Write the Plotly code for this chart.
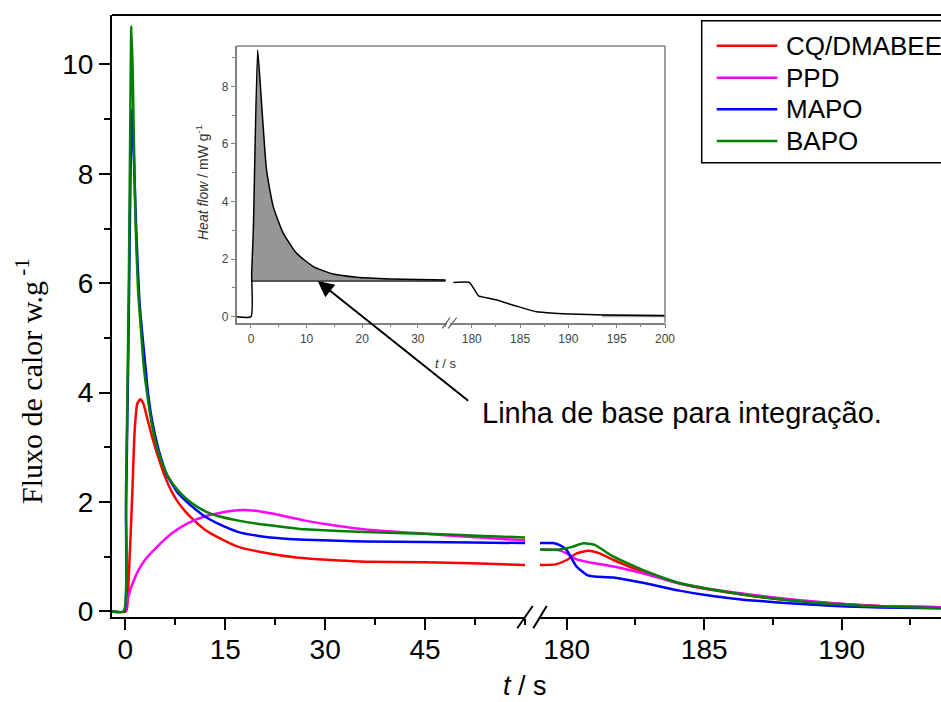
import plotly.graph_objects as go

# ---------------- data ----------------
series_names = ["CQ/DMABEE", "PPD", "MAPO", "BAPO"]
series_colors = ["#ff0000", "#ff00ff", "#0000ff", "#008000"]

# left segment (0 - 60 s)
red_t = [-2, 0.1, 0.5, 1.0, 1.4, 1.8, 2.25, 2.7, 3.25, 4.0, 5.0, 6.0, 7.0, 8.0, 9.0, 10, 12, 14, 17, 22, 27, 32, 36, 45, 52, 60]
red_v = [0, 0, 0.6, 2.0, 3.3, 3.8, 3.88, 3.8, 3.55, 3.2, 2.8, 2.45, 2.18, 1.98, 1.83, 1.7, 1.49, 1.35, 1.18, 1.05, 0.97, 0.93, 0.91, 0.9, 0.88, 0.85]

ppd_t = [0, 0.2, 0.5, 1, 2, 3, 4.5, 7, 9.5, 12, 14.5, 17, 19.5, 22, 27, 32, 36, 45, 52, 60]
ppd_v = [0, 0.15, 0.3, 0.48, 0.76, 0.95, 1.15, 1.43, 1.62, 1.74, 1.81, 1.85, 1.84, 1.79, 1.66, 1.56, 1.5, 1.42, 1.36, 1.3]

mapo_t = [-2, -0.2, 0.1, 0.5, 0.8, 1.0, 1.2, 1.6, 2.1, 2.6, 3.0, 3.4, 4.0, 4.9, 5.5, 6.25, 8, 9.25, 10, 12, 14, 17, 20, 24, 27, 32, 36, 45, 52, 60]
mapo_v = [0, 0, 1.8, 5.2, 8.2, 9.18, 8.6, 7.1, 5.7, 5.0, 4.5, 4.0, 3.5, 3.0, 2.75, 2.49, 2.15, 2.0, 1.92, 1.73, 1.6, 1.45, 1.38, 1.33, 1.31, 1.29, 1.28, 1.27, 1.26, 1.25]

bapo_t = [-2, -0.25, 0.1, 0.5, 0.75, 0.9, 1.1, 1.5, 1.9, 2.25, 2.75, 3.25, 4.0, 4.75, 5.5, 6.5, 8.0, 9.75, 12, 14, 17, 20, 24, 27, 32, 36, 45, 52, 60]
bapo_v = [0, 0, 2.2, 5.7, 9.0, 10.7, 9.9, 7.25, 5.9, 5.3, 4.5, 4.0, 3.4, 3.0, 2.72, 2.45, 2.2, 2.0, 1.83, 1.74, 1.66, 1.6, 1.54, 1.5, 1.47, 1.45, 1.42, 1.39, 1.35]

# right segment (179 - 194 s)
red_t2 = [179, 179.6, 180, 180.36, 180.8, 181.2, 181.7, 182.9, 184.1, 185.3, 186.5, 187.8, 189, 190.2, 191.4, 193.6]
red_v2 = [0.85, 0.86, 0.94, 1.06, 1.11, 1.06, 0.94, 0.70, 0.51, 0.39, 0.30, 0.22, 0.17, 0.13, 0.10, 0.075]

ppd_t2 = [179, 179.7, 180, 180.36, 180.9, 181.7, 182.9, 184.1, 185.3, 186.5, 187.8, 189, 190.2, 191.4, 193.6]
ppd_v2 = [1.13, 1.12, 1.06, 0.95, 0.89, 0.82, 0.68, 0.51, 0.40, 0.32, 0.24, 0.18, 0.13, 0.10, 0.075]

mapo_t2 = [179, 179.5, 179.8, 180, 180.36, 180.73, 181, 181.7, 182.9, 184.1, 185.3, 186.5, 187.8, 189, 190.2, 191.4, 193.6]
mapo_v2 = [1.25, 1.25, 1.2, 1.12, 0.82, 0.67, 0.64, 0.62, 0.51, 0.38, 0.28, 0.21, 0.16, 0.12, 0.09, 0.07, 0.06]

bapo_t2 = [179, 179.7, 180.2, 180.6, 181, 181.7, 182.9, 184.1, 185.3, 186.5, 187.8, 189, 190.2, 191.4, 193.6]
bapo_v2 = [1.13, 1.13, 1.18, 1.245, 1.22, 1.0, 0.73, 0.52, 0.40, 0.30, 0.22, 0.16, 0.12, 0.09, 0.06]

# inset (heat flow, mW g-1)
inset_t = [-2.6, 0.0, 0.12, 0.42, 1.2, 1.9, 2.8, 4.0, 5.8, 8.2, 11.2, 14.8, 19, 25, 35]
inset_v = [0, 0, 1.5, 3.0, 9.26, 7.41, 5.09, 3.82, 2.9, 2.2, 1.74, 1.48, 1.37, 1.31, 1.27]
inset_t2 = [178.1, 179.75, 180.2, 180.7, 181.5, 182.6, 183.8, 185, 186.7, 188.5, 190.2, 193.7, 200]
inset_v2 = [1.19, 1.19, 0.98, 0.72, 0.66, 0.58, 0.45, 0.33, 0.17, 0.12, 0.09, 0.06, 0.035]
inset_base_t = [0.12, 35]
inset_base_v = [1.24, 1.24]
inset_base2_t = [193.5, 200]
inset_base2_v = [0.03, 0.03]

main_left_ticks = [0, 15, 30, 45]
main_right_ticks = [180, 185, 190]
main_y_ticks = [0, 2, 4, 6, 8, 10]
inset_left_ticks = [0, 10, 20, 30]
inset_right_ticks = [180, 185, 190, 195, 200]
inset_y_ticks = [0, 2, 4, 6, 8]

# ---------------- layout helpers ----------------
W, H = 941, 702
ML, MR, MT, MB = 112, 0, 15, 85
PW, PH = W - ML - MR, H - MT - MB


def px(x):
    return (x - ML) / PW


def py(y):
    return (H - MB - y) / PH


FONT = "Liberation Sans, Arial, sans-serif"
fig = go.Figure()

left = [(red_t, red_v), (ppd_t, ppd_v), (mapo_t, mapo_v), (bapo_t, bapo_v)]
right = [(red_t2, red_v2), (ppd_t2, ppd_v2), (mapo_t2, mapo_v2), (bapo_t2, bapo_v2)]
for name, col, (t, v) in zip(series_names, series_colors, left):
    fig.add_trace(go.Scatter(x=t, y=v, mode="lines", name=name, xaxis="x", yaxis="y",
                             line=dict(color=col, width=2.5, shape="spline", smoothing=0.5),
                             showlegend=False))
for name, col, (t, v) in zip(series_names, series_colors, right):
    fig.add_trace(go.Scatter(x=t, y=v, mode="lines", name=name, xaxis="x2", yaxis="y",
                             line=dict(color=col, width=2.5, shape="spline", smoothing=0.5),
                             showlegend=False))

# inset: shaded area between curve and baseline
base = inset_base_v[0]
fill_t = [t for t, v in zip(inset_t, inset_v) if t >= inset_base_t[0]]
fill_v = [max(v, base) for t, v in zip(inset_t, inset_v) if t >= inset_base_t[0]]
fig.add_trace(go.Scatter(x=fill_t + [inset_base_t[1], inset_base_t[0]],
                         y=fill_v + [base, base], mode="lines", fill="toself",
                         fillcolor="rgb(150,150,150)",
                         line=dict(width=0, shape="spline", smoothing=0.5),
                         xaxis="x3", yaxis="y2", showlegend=False))
fig.add_trace(go.Scatter(x=inset_base_t, y=inset_base_v, mode="lines",
                         line=dict(color="#555", width=2), xaxis="x3", yaxis="y2", showlegend=False))
fig.add_trace(go.Scatter(x=inset_t, y=inset_v, mode="lines",
                         line=dict(color="black", width=1.5, shape="spline", smoothing=0.5),
                         xaxis="x3", yaxis="y2", showlegend=False))
fig.add_trace(go.Scatter(x=inset_base2_t, y=inset_base2_v, mode="lines",
                         line=dict(color="#aaa", width=3), xaxis="x4", yaxis="y2", showlegend=False))
fig.add_trace(go.Scatter(x=inset_t2, y=inset_v2, mode="lines",
                         line=dict(color="black", width=1.5, shape="spline", smoothing=0.4),
                         xaxis="x4", yaxis="y2", showlegend=False))

tickfont = dict(family=FONT, size=28, color="black")
ax_common = dict(showline=True, linecolor="black", linewidth=2, ticks="outside",
                 ticklen=11, tickwidth=2, tickcolor="black", showgrid=False,
                 zeroline=False, tickfont=tickfont)
in_font = dict(family=FONT, size=12, color="#444")
in_common = dict(showline=True, linecolor="#808080", linewidth=1.5, ticks="outside",
                 ticklen=4, tickwidth=1, tickcolor="#808080", showgrid=False,
                 zeroline=False, tickfont=in_font)

fig.update_layout(
    width=W, height=H, plot_bgcolor="white", paper_bgcolor="white",
    margin=dict(l=ML, r=MR, t=MT, b=MB, autoexpand=False),
    showlegend=False,
    xaxis=dict(domain=[0, px(525)], range=[-2, 60], anchor="y", tickvals=main_left_ticks,
               ticklabelstandoff=-5,
               minor=dict(dtick=7.5, tick0=0, ticklen=6, tickwidth=2, ticks="outside", tickcolor="black"),
               **ax_common),
    xaxis2=dict(domain=[px(540), 1], range=[179.03, 193.61], anchor="y", tickvals=main_right_ticks,
                ticklabelstandoff=-5,
                minor=dict(dtick=2.5, tick0=180, ticklen=6, tickwidth=2, ticks="outside", tickcolor="black"),
                **ax_common),
    yaxis=dict(domain=[0, 1], range=[-0.102, 10.903], anchor="x", tickvals=main_y_ticks,
               minor=dict(dtick=1, tick0=0, ticklen=6, tickwidth=2, ticks="outside", tickcolor="black"),
               **ax_common),
    xaxis3=dict(domain=[px(236.7), px(447)], range=[-2.57, 35.25], anchor="y2", tickvals=inset_left_ticks,
                minor=dict(dtick=5, tick0=0, ticklen=3, ticks="outside", tickcolor="#808080"),
                **in_common),
    xaxis4=dict(domain=[px(450), px(665)], range=[177.75, 200], anchor="y2", tickvals=inset_right_ticks,
                minor=dict(dtick=2.5, tick0=180, ticklen=3, ticks="outside", tickcolor="#808080"),
                **in_common),
    yaxis2=dict(domain=[py(322.7), py(46)], range=[-0.21, 9.40], anchor="x3", tickvals=inset_y_ticks,
                minor=dict(dtick=1, tick0=0, ticklen=3, ticks="outside", tickcolor="#808080"),
                **in_common),
)

shapes = []
# main frame top line
shapes.append(dict(type="line", xref="paper", yref="paper", x0=0, x1=1.01, y0=1, y1=1,
                   line=dict(color="black", width=2)))
# main axis break marks
for (x0, x1) in [(517.3, 532.7), (533.3, 546.7)]:
    shapes.append(dict(type="line", xref="paper", yref="paper", x0=px(x0), x1=px(x1),
                       y0=py(628.3), y1=py(606), line=dict(color="black", width=2)))
# inset frame top/right
shapes.append(dict(type="line", xref="paper", yref="paper", x0=px(236.7), x1=px(665),
                   y0=py(46), y1=py(46), line=dict(color="#808080", width=1.5)))
shapes.append(dict(type="line", xref="paper", yref="paper", x0=px(665), x1=px(665),
                   y0=py(46), y1=py(322.7), line=dict(color="#808080", width=1.5)))
# inset break marks
for (x0, x1) in [(442.3, 450), (448.3, 456.7)]:
    shapes.append(dict(type="line", xref="paper", yref="paper", x0=px(x0), x1=px(x1),
                       y0=py(328.3), y1=py(317.7), line=dict(color="#606060", width=1.2)))
# legend box
shapes.append(dict(type="rect", xref="paper", yref="paper", x0=px(701.7), x1=px(960),
                   y0=py(162.7), y1=py(20.7), line=dict(color="black", width=1.5),
                   fillcolor="white", layer="below"))
legend_rows = [45.7, 77.7, 109.3, 141]
annotations = []
for name, col, yy in zip(series_names, series_colors, legend_rows):
    shapes.append(dict(type="line", xref="paper", yref="paper", x0=px(716.7), x1=px(777.3),
                       y0=py(yy), y1=py(yy), line=dict(color=col, width=2.5)))
    annotations.append(dict(text=name, xref="paper", yref="paper", x=px(784.3), y=py(yy),
                            xanchor="left", yanchor="middle", showarrow=False,
                            font=dict(family=FONT, size=26, color="black")))

# titles
annotations.append(dict(text="Fluxo de calor w.g<sup> -1</sup>", xref="paper", yref="paper",
                        x=px(29), y=py(381), textangle=-90, showarrow=False,
                        xanchor="center", yanchor="middle",
                        font=dict(family="Liberation Serif, Times New Roman, serif", size=30, color="black")))
annotations.append(dict(text="<i>t</i> / s", xref="paper", yref="paper", x=px(525), y=py(686),
                        showarrow=False, xanchor="center", yanchor="middle",
                        font=dict(family=FONT, size=27, color="black")))
annotations.append(dict(text="<i>Heat flow</i> / mW g<sup>-1</sup>", xref="paper", yref="paper",
                        x=px(202), y=py(183), textangle=-90, showarrow=False,
                        xanchor="center", yanchor="middle",
                        font=dict(family=FONT, size=14, color="#333")))
annotations.append(dict(text="<i>t</i> / s", xref="paper", yref="paper", x=px(445), y=py(363),
                        showarrow=False, xanchor="center", yanchor="middle",
                        font=dict(family=FONT, size=13, color="#333")))
# baseline annotation + arrow
annotations.append(dict(text="Linha de base para integração.", xref="paper", yref="paper",
                        x=px(480), y=py(413), showarrow=False, xanchor="left", yanchor="middle",
                        font=dict(family=FONT, size=29, color="black")))
annotations.append(dict(text="", xref="x3", yref="y2", x=12, y=inset_base_v[0],
                        ax=152, ay=121, showarrow=True, arrowhead=2, arrowsize=1.6,
                        arrowwidth=2, arrowcolor="black", standoff=0))

fig.update_layout(shapes=shapes, annotations=annotations)
fig.write_html("out.html", config={"displayModeBar": False},
               post_script="document.body.style.margin='0';document.body.style.overflow='hidden';")
